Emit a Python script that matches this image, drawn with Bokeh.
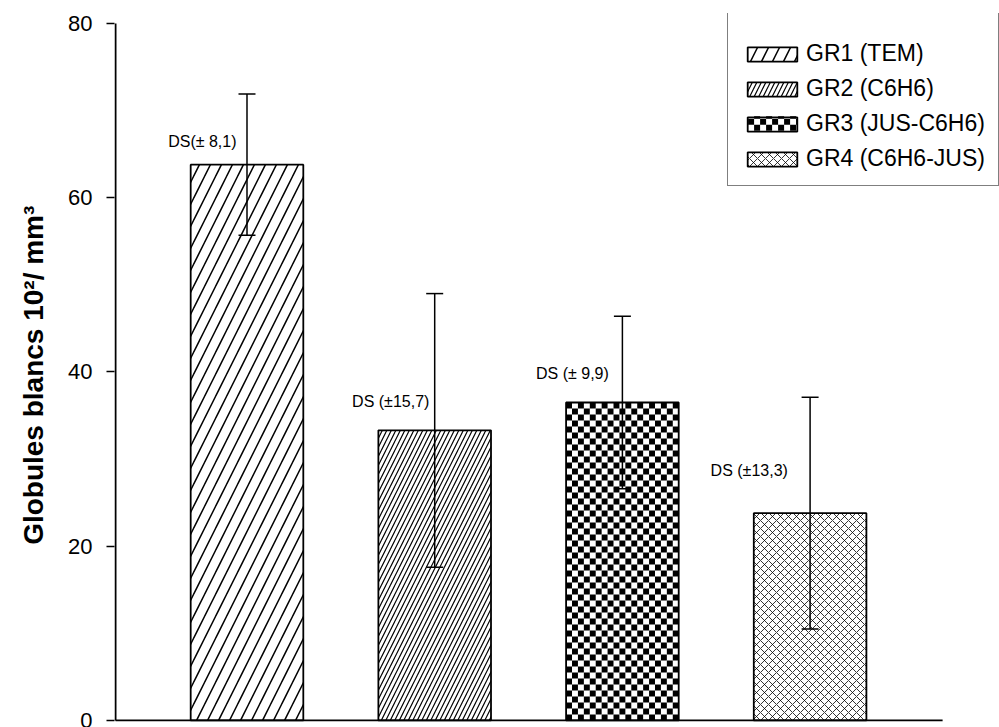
import numpy as np
from bokeh.plotting import figure
from bokeh.models import Range1d, FixedTicker, Whisker, TeeHead, ColumnDataSource
from bokeh.core.properties import value
from bokeh.embed import file_html
from bokeh.resources import INLINE

# ---- data ----
groups = ["GR1 (TEM)", "GR2 (C6H6)", "GR3 (JUS-C6H6)", "GR4 (C6H6-JUS)"]
means = [63.8, 33.3, 36.5, 23.8]
sds = [8.1, 15.7, 9.9, 13.3]
sd_labels = ["DS(\u00b1 8,1)", "DS (\u00b115,7)", "DS (\u00b1 9,9)", "DS (\u00b113,3)"]
y_ticks = [0, 20, 40, 60, 80]

# ---- annotation / layout constants ----
label_dx = [-0.42, -0.44, -0.46, -0.53]
label_y = [66.5, 36.65, 39.8, 28.7]
AXIS_X0, AXIS_X1 = 0.2994, 4.706   # visible extent of the drawn axis lines
AXIS_Y_TOP = 80
BAR_W = 0.6
X_START, X_END = 0.2941, 5.0091
Y_START, Y_END = -0.115, 81.148
PX_PER_X, PX_PER_Y = 187.7, 8.7125
CELL_PX = 6.0
FRAME_LEFT_PX, FRAME_BOTTOM_PX = 114, 721
SWATCH_PX = (747.6, 797.2, 115.8, 130.2)  # legend swatch rect of GR3 (page px)

FONT = "Liberation Sans"


def px_to_x(px):
    return X_START + (px - FRAME_LEFT_PX) / PX_PER_X


def px_to_y(py):
    return Y_START + (FRAME_BOTTOM_PX - py) / PX_PER_Y


def checker_cells(x0, x1, y0, y1, cw, ch, phase=0):
    L, R, B, T = [], [], [], []
    nx = int(np.ceil((x1 - x0) / cw - 1e-9))
    ny = int(np.ceil((y1 - y0) / ch - 1e-9))
    for j in range(ny):
        for i in range(nx):
            if (i + j + phase) % 2 == 0:
                L.append(x0 + i * cw)
                R.append(min(x0 + (i + 1) * cw, x1))
                B.append(y0 + j * ch)
                T.append(min(y0 + (j + 1) * ch, y1))
    return dict(left=L, right=R, bottom=B, top=T)


p = figure(width=999, height=727, output_backend="svg", toolbar_location=None,
           x_range=Range1d(X_START, X_END), y_range=Range1d(Y_START, Y_END),
           min_border_left=114, min_border_right=0, min_border_top=13, min_border_bottom=6)
p.outline_line_color = None
p.xgrid.visible = False
p.ygrid.visible = False
p.background_fill_color = "white"

xs = [i + 1 for i in range(len(groups))]

cw = CELL_PX / PX_PER_X
ch = CELL_PX / PX_PER_Y
ncols = int(round(BAR_W * PX_PER_X / CELL_PX))

# checkerboard fill of GR3 bar
i3 = 2
cells = checker_cells(xs[i3] - BAR_W / 2, xs[i3] + BAR_W / 2, 0, means[i3],
                      BAR_W / ncols, ch)
p.quad(source=ColumnDataSource(cells), left="left", right="right", bottom="bottom", top="top",
       fill_color="black", line_color=None)

# checkerboard swatch under the (transparent) GR3 legend glyph
sw = checker_cells(px_to_x(SWATCH_PX[0]), px_to_x(SWATCH_PX[1]),
                   px_to_y(SWATCH_PX[3]), px_to_y(SWATCH_PX[2]), cw, ch, phase=1)
p.quad(source=ColumnDataSource(sw), left="left", right="right", bottom="bottom", top="top",
       fill_color="black", line_color=None)

styles = [
    dict(fill_color="white", hatch_pattern="/", hatch_scale=22, hatch_weight=1.5),
    dict(fill_color="white", hatch_pattern="/", hatch_scale=9, hatch_weight=1.2),
    dict(fill_color="white", fill_alpha=0),
    dict(fill_color="white", hatch_pattern="x", hatch_scale=8, hatch_weight=0.8),
]

for i, g in enumerate(groups):
    src = ColumnDataSource(dict(x=[xs[i]], top=[means[i]]))
    p.vbar(x="x", top="top", width=BAR_W, bottom=0, source=src,
           line_color="black", line_width=1.8,
           hatch_color="black", legend_label=g, **styles[i])

err_src = ColumnDataSource(dict(
    x=xs,
    lower=[m - s for m, s in zip(means, sds)],
    upper=[m + s for m, s in zip(means, sds)],
))
wh = Whisker(base="x", lower="lower", upper="upper", source=err_src,
             line_color="black", line_width=1.5, level="overlay",
             upper_head=TeeHead(size=17, line_width=1.5, line_color="black"),
             lower_head=TeeHead(size=17, line_width=1.5, line_color="black"))
p.add_layout(wh)

lab_src = ColumnDataSource(dict(
    x=[xs[i] + label_dx[i] for i in range(len(xs))],
    y=label_y,
    t=sd_labels,
))
p.text(x="x", y="y", text="t", source=lab_src, text_font=value(FONT),
       text_font_size="16px", text_baseline="middle", text_align="left", text_color="black")

# axis lines (drawn so that they stop where the original's axes stop)
p.segment(x0=[AXIS_X0], y0=[0], x1=[AXIS_X1], y1=[0], line_color="black", line_width=2)
p.segment(x0=[AXIS_X0], y0=[0], x1=[AXIS_X0], y1=[AXIS_Y_TOP], line_color="black", line_width=2)

p.xaxis.visible = False

p.yaxis.ticker = FixedTicker(ticks=y_ticks)
p.yaxis.axis_line_color = None
p.yaxis.major_tick_in = 0
p.yaxis.major_tick_out = 8
p.yaxis.major_tick_line_width = 1.5
p.yaxis.major_tick_line_color = "black"
p.yaxis.minor_tick_line_color = None
p.yaxis.major_label_text_font = FONT
p.yaxis.major_label_text_font_size = "22px"
p.yaxis.major_label_text_color = "black"
p.yaxis.major_label_standoff = 14
p.yaxis.axis_label = "Globules blancs 10\u00b2/ mm\u00b3\u00a0\u00a0"
p.yaxis.axis_label_text_font = FONT
p.yaxis.axis_label_text_font_style = "bold"
p.yaxis.axis_label_text_font_size = "28px"
p.yaxis.axis_label_text_color = "black"
p.yaxis.axis_label_standoff = 16

lg = p.legend[0]
lg.location = (613, 535)
lg.margin = 0
lg.padding = 13
lg.spacing = 8
lg.title = " "
lg.title_text_font_size = "4px"
lg.title_standoff = 13
lg.glyph_width = 62
lg.glyph_height = 18
lg.label_standoff = 3
lg.label_text_font = FONT
lg.label_text_font_size = "23px"
lg.label_text_color = "black"
lg.border_line_color = "black"
lg.border_line_width = 1.5
lg.background_fill_alpha = 0

open("out.html", "w").write(file_html(p, INLINE))
